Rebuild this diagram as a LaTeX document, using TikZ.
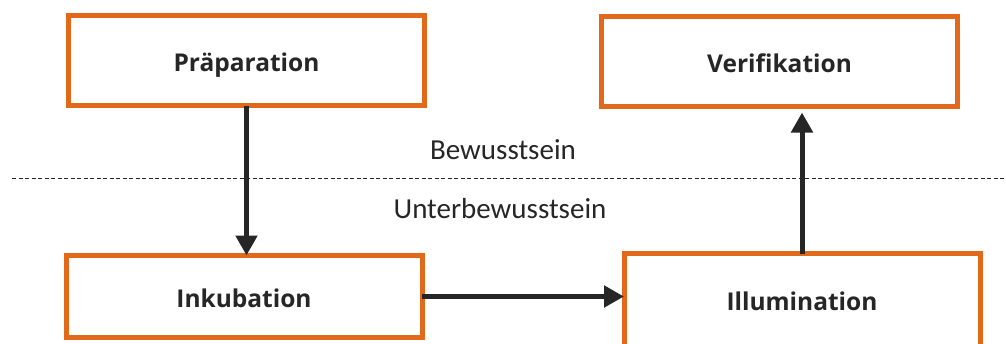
\documentclass[tikz,border=0pt]{standalone}
\usepackage{fontspec}
\setmainfont{Carlito}
\newfontfamily\stagefont{Open Sans}
\usetikzlibrary{arrows.meta}
\definecolor{phOrange}{HTML}{E2691A}
\definecolor{phInk}{HTML}{262626}

\begin{document}
\begin{tikzpicture}[
  x=1pt,y=-1pt,
  every node/.style={
    text=phInk,align=center,outer sep=0pt
  },
  stagebox/.style={
    draw=phOrange,
    fill=white,
    line width=5pt,
    minimum width=356pt,
    minimum height=90pt,
    inner sep=0pt,
    text height=21pt,
    text depth=0pt,
    font=\stagefont\bfseries\fontsize{24.5}{28}\selectfont
  },
  flow/.style={
    -{Triangle[length=20pt,width=21pt]},
    draw=phInk,
    line width=5pt
  },
  level/.style={
    font=\fontsize{29}{32}\selectfont
  }
]
\path[use as bounding box] (0,0) rectangle (1006,343);

% Conscious phases
\node[stagebox] (prep) at (246.5,60.5) {Präparation};
\node[stagebox] (veri) at (779.5,61.5) {Verifikation};

% Unconscious phases
\node[stagebox,minimum height=82pt] (inku) at (244,296.5) {Inkubation};
\node[stagebox,minimum height=96pt,text height=17pt]
  (illu) at (802,301.5) {Illumination};

% Border between the levels
\coordinate (dl) at (12,178);
\coordinate (dr) at (1006,178);
\draw[phInk,line width=0.8pt,dash pattern=on 4pt off 2.5pt] (dl) -- (dr);

\node[level] (bw) at (503,149.5) {Bewusstsein};
\node[level] (ubw) at (500,208.5) {Unterbewusstsein};

% Phase flow
\draw[flow] (prep.south) -- (prep.south |- inku.north);
\draw[flow] (inku.east) -- (inku.east -| illu.west);
\draw[flow,shorten >=6pt] (illu.north) -- (illu.north |- veri.south);

\end{tikzpicture}
\end{document}
